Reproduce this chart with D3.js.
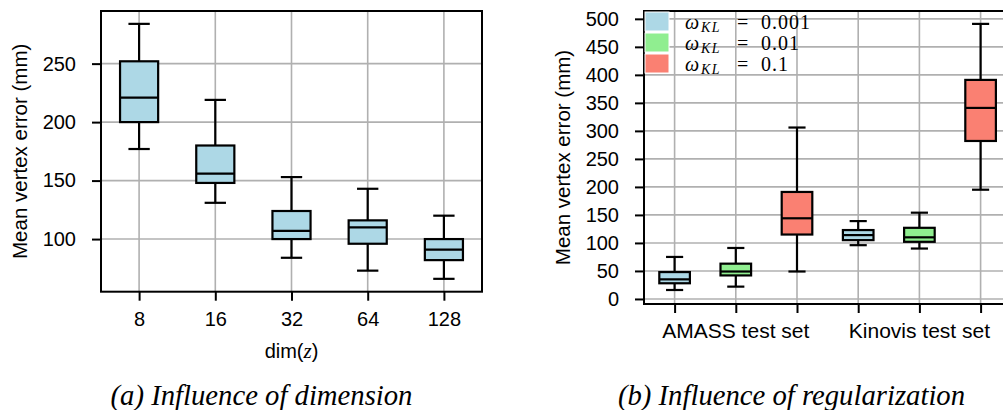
<!DOCTYPE html>
<html>
<head>
<meta charset="utf-8">
<script src="https://cdn.jsdelivr.net/npm/d3@7"></script>
<style>
  html, body { margin: 0; padding: 0; background: #fff; }
  svg { display: block; }
  text { font-family: "Liberation Sans", Arial, Helvetica, sans-serif; fill: #000; }
</style>
</head>
<body>
<svg id="chart" width="1003" height="410"></svg>
<script>
// ---------- Data: (a) influence of dimension ----------
const dims = ["8", "16", "32", "64", "128"];
const dimWhiskerLow  = [177, 131, 84, 73, 66];
const dimQ1          = [200, 148, 100, 96, 82];
const dimMedian      = [221, 156, 107, 110, 91];
const dimQ3          = [252, 180, 124, 116, 100];
const dimWhiskerHigh = [284, 219, 153, 143, 120];
const leftTicks = [100, 150, 200, 250];

// ---------- Data: (b) influence of regularization ----------
const datasets = ["AMASS test set", "Kinovis test set"];
const weights = ["0.001", "0.01", "0.1"];
const weightColors = ["#add8e6", "#90ee90", "#fa8072"];
// order: AMASS(0.001, 0.01, 0.1), Kinovis(0.001, 0.01, 0.1)
const regWhiskerLow  = [16, 22, 49, 96, 90, 195];
const regQ1          = [28, 42, 115, 105, 102, 282];
const regMedian      = [35, 49, 144, 114, 110, 341];
const regQ3          = [48, 63, 191, 123, 127, 391];
const regWhiskerHigh = [75, 91, 306, 139, 154, 491];
const rightTicks = d3.range(0, 501, 50);

const svg = d3.select("#chart");
const gridColor = "#b0b0b0";

function drawBoxes(g, items, x, y, boxW) {
  const capW = boxW * 0.56;
  const grp = g.selectAll("g.box").data(items).join("g").attr("class", "box");
  grp.append("line")
    .attr("x1", d => x(d.key)).attr("x2", d => x(d.key))
    .attr("y1", d => y(d.q3)).attr("y2", d => y(d.high))
    .attr("stroke", "#000").attr("stroke-width", 2.2);
  grp.append("line")
    .attr("x1", d => x(d.key)).attr("x2", d => x(d.key))
    .attr("y1", d => y(d.q1)).attr("y2", d => y(d.low))
    .attr("stroke", "#000").attr("stroke-width", 2.2);
  grp.append("line")
    .attr("x1", d => x(d.key) - capW / 2).attr("x2", d => x(d.key) + capW / 2)
    .attr("y1", d => y(d.high)).attr("y2", d => y(d.high))
    .attr("stroke", "#000").attr("stroke-width", 2.2);
  grp.append("line")
    .attr("x1", d => x(d.key) - capW / 2).attr("x2", d => x(d.key) + capW / 2)
    .attr("y1", d => y(d.low)).attr("y2", d => y(d.low))
    .attr("stroke", "#000").attr("stroke-width", 2.2);
  grp.append("rect")
    .attr("x", d => x(d.key) - boxW / 2)
    .attr("y", d => y(d.q3))
    .attr("width", boxW)
    .attr("height", d => y(d.q1) - y(d.q3))
    .attr("fill", d => d.color)
    .attr("stroke", "#000").attr("stroke-width", 2.2);
  grp.append("line")
    .attr("x1", d => x(d.key) - boxW / 2).attr("x2", d => x(d.key) + boxW / 2)
    .attr("y1", d => y(d.med)).attr("y2", d => y(d.med))
    .attr("stroke", "#000").attr("stroke-width", 2.2);
}

function styleAxis(g) {
  g.select(".domain").remove();
  g.selectAll(".tick line").attr("stroke", "#000").attr("stroke-width", 2);
  g.selectAll(".tick text").style("font-size", "20px").attr("fill", "#000");
}

// ================= Panel (a) =================
{
  const L = 101, R = 482, T = 11, B = 291.7;
  const x = d3.scalePoint().domain(dims).range([L, R]).padding(0.5);
  const y = d3.scaleLinear().domain([55, 295]).range([B, T]);
  const g = svg.append("g");

  g.append("g").selectAll("line").data(leftTicks).join("line")
    .attr("x1", L).attr("x2", R).attr("y1", d => y(d)).attr("y2", d => y(d))
    .attr("stroke", gridColor).attr("stroke-width", 1.6);
  g.append("g").selectAll("line").data(dims).join("line")
    .attr("x1", d => x(d)).attr("x2", d => x(d)).attr("y1", T).attr("y2", B)
    .attr("stroke", gridColor).attr("stroke-width", 1.6);

  const items = dims.map((k, i) => ({
    key: k, low: dimWhiskerLow[i], q1: dimQ1[i], med: dimMedian[i],
    q3: dimQ3[i], high: dimWhiskerHigh[i], color: "#add8e6"
  }));
  drawBoxes(g, items, x, y, x.step() * 0.5);

  g.append("rect").attr("x", L).attr("y", T).attr("width", R - L).attr("height", B - T)
    .attr("fill", "none").attr("stroke", "#000").attr("stroke-width", 2);

  const ya = g.append("g").attr("transform", `translate(${L},0)`)
    .call(d3.axisLeft(y).tickValues(leftTicks).tickSize(9).tickPadding(16));
  styleAxis(ya);
  const xa = g.append("g").attr("transform", `translate(0,${B})`)
    .call(d3.axisBottom(x).tickSize(9).tickPadding(11));
  styleAxis(xa);

  g.append("text")
    .attr("transform", `translate(27,${(T + B) / 2}) rotate(-90)`)
    .attr("text-anchor", "middle").style("font-size", "20.5px")
    .text("Mean vertex error (mm)");

  const xl = g.append("text").attr("x", (L + R) / 2).attr("y", 357.5)
    .attr("text-anchor", "middle").style("font-size", "20px");
  xl.append("tspan").text("dim(");
  xl.append("tspan").style("font-family", "'Liberation Serif', 'Times New Roman', serif")
    .style("font-style", "italic").style("font-size", "21px").text("z");
  xl.append("tspan").text(")");

  svg.append("text").attr("x", 261.5).attr("y", 405)
    .attr("text-anchor", "middle")
    .style("font-family", "'Liberation Serif', 'Times New Roman', serif")
    .style("font-style", "italic").style("font-size", "28.7px")
    .text("(a) Influence of dimension");
}

// ================= Panel (b) =================
{
  const L = 644, T = 11, B = 304;
  const step = 61.2;
  const keys = [];
  datasets.forEach(ds => weights.forEach(w => keys.push(ds + "|" + w)));
  const R = L + step * keys.length;
  const x = d3.scalePoint().domain(keys).range([L, R]).padding(0.5);
  const y = d3.scaleLinear().domain([-9, 514]).range([B, T]);
  const g = svg.append("g");

  g.append("g").selectAll("line").data(rightTicks).join("line")
    .attr("x1", L).attr("x2", R).attr("y1", d => y(d)).attr("y2", d => y(d))
    .attr("stroke", gridColor).attr("stroke-width", 1.6);
  g.append("g").selectAll("line").data(keys).join("line")
    .attr("x1", d => x(d)).attr("x2", d => x(d)).attr("y1", T).attr("y2", B)
    .attr("stroke", gridColor).attr("stroke-width", 1.6);

  const items = keys.map((k, i) => ({
    key: k, low: regWhiskerLow[i], q1: regQ1[i], med: regMedian[i],
    q3: regQ3[i], high: regWhiskerHigh[i], color: weightColors[i % weights.length]
  }));
  drawBoxes(g, items, x, y, x.step() * 0.5);

  g.append("rect").attr("x", L).attr("y", T).attr("width", R - L).attr("height", B - T)
    .attr("fill", "none").attr("stroke", "#000").attr("stroke-width", 2);

  const ya = g.append("g").attr("transform", `translate(${L},0)`)
    .call(d3.axisLeft(y).tickValues(rightTicks).tickSize(9).tickPadding(16));
  styleAxis(ya);
  const xa = g.append("g").attr("transform", `translate(0,${B})`)
    .call(d3.axisBottom(x).tickSize(9).tickFormat(""));
  styleAxis(xa);

  g.append("g").selectAll("text").data(datasets).join("text")
    .attr("x", ds => d3.mean(weights, w => x(ds + "|" + w)))
    .attr("y", 338)
    .attr("text-anchor", "middle").style("font-size", "21px")
    .text(d => d);

  g.append("text")
    .attr("transform", `translate(570,${(T + B) / 2}) rotate(-90)`)
    .attr("text-anchor", "middle").style("font-size", "20.5px")
    .text("Mean vertex error (mm)");

  // legend (no frame)
  const serif = "'Liberation Serif', 'DejaVu Serif', serif";
  const leg = g.append("g");
  weights.forEach((w, i) => {
    const yy = 12 + i * 21;
    const base = yy + 17;
    leg.append("rect").attr("x", 645).attr("y", yy).attr("width", 24).attr("height", 19)
      .attr("fill", weightColors[i]).attr("stroke", "#fff").attr("stroke-width", 1);
    leg.append("text").attr("x", 685).attr("y", base)
      .style("font-family", serif).style("font-style", "italic").style("font-size", "20px")
      .text("ω");
    leg.append("text").attr("x", 701).attr("y", base + 3)
      .style("font-family", serif).style("font-style", "italic").style("font-size", "14px")
      .style("letter-spacing", "1.5px")
      .text("KL");
    leg.append("text").attr("x", 737).attr("y", base)
      .style("font-family", serif).style("font-size", "20px")
      .text("=");
    leg.append("text").attr("x", 761).attr("y", base)
      .style("font-family", serif).style("font-size", "20px")
      .style("letter-spacing", "1px")
      .text(w);
  });

  svg.append("text").attr("x", 791.5).attr("y", 405)
    .attr("text-anchor", "middle")
    .style("font-family", "'Liberation Serif', 'Times New Roman', serif")
    .style("font-style", "italic").style("font-size", "28.7px")
    .text("(b) Influence of regularization");
}
</script>
</body>
</html>
